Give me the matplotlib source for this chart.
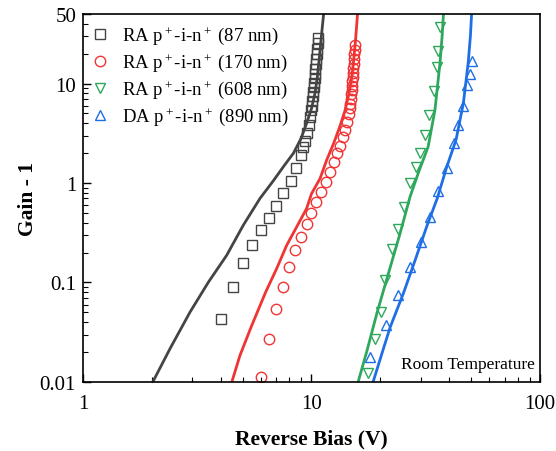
import matplotlib
matplotlib.use('Agg')
import matplotlib.pyplot as plt
from matplotlib.ticker import FixedLocator, NullFormatter

plt.rcParams['font.family'] = ['Liberation Serif', 'DejaVu Serif']
plt.rcParams['mathtext.fontset'] = 'custom'
plt.rcParams['mathtext.rm'] = 'Liberation Serif'
plt.rcParams['mathtext.it'] = 'Liberation Serif:italic'
plt.rcParams['mathtext.bf'] = 'Liberation Serif:bold'

# measured points (reverse bias V, gain - 1)
v87 = [4.02, 4.52, 5.0, 5.51, 6.01, 6.52, 6.99, 7.53, 8.1, 8.55, 9.0, 9.15, 9.37, 9.52,
       9.78, 9.88, 9.97, 10.03, 10.08, 10.13, 10.18, 10.22, 10.27, 10.31, 10.36, 10.4,
       10.45, 10.5, 10.55, 10.6, 10.65, 10.7]
g87 = [0.0432, 0.091, 0.157, 0.24, 0.338, 0.45, 0.594, 0.8, 1.05, 1.42, 1.93, 2.28, 2.67, 3.16,
       3.84, 4.66, 5.4, 6.0, 6.7, 7.5, 8.3, 9.2, 10.2, 11.3, 12.6, 14.0,
       15.6, 17.5, 19.7, 22.3, 25.3, 28.7]

v170 = [6.01, 6.52, 6.99, 7.5, 8.0, 8.5, 9.0, 9.52, 10.0, 10.5, 11.0, 11.6, 12.0, 12.5,
        12.9, 13.3, 13.7, 14.0, 14.35, 14.55, 14.7, 14.8, 14.87, 14.94, 15.0, 15.05,
        15.1, 15.15, 15.2, 15.25, 15.3, 15.35, 15.4, 15.45, 15.5]
g170 = [0.0113, 0.0271, 0.0545, 0.0893, 0.142, 0.21, 0.288, 0.385, 0.502, 0.645, 0.82, 1.03, 1.29, 1.61,
        1.99, 2.38, 2.88, 3.41, 4.15, 4.9, 5.65, 6.3, 7.0, 7.8, 8.6, 9.5,
        10.5, 11.6, 12.8, 14.2, 15.8, 17.6, 19.6, 21.9, 24.5]

v608 = [17.6, 19.0, 20.2, 21.0, 22.4, 24.0, 25.3, 27.0, 28.6, 29.8, 31.4, 32.8, 34.3, 35.3, 35.9, 36.5]
g608 = [0.0122, 0.0271, 0.0505, 0.106, 0.219, 0.348, 0.57, 0.99, 1.44, 1.99, 3.07, 4.8, 8.4, 14.6, 21.1, 36.7]

v890 = [18.0, 21.1, 24.0, 27.0, 30.1, 33.0, 35.9, 39.1, 42.1, 43.9, 45.9, 48.1, 49.4, 50.2]
g890 = [0.0177, 0.037, 0.0753, 0.143, 0.256, 0.457, 0.828, 1.4, 2.51, 3.79, 5.88, 9.57, 12.4, 16.8]

# simulated curves
sv87 = [2.02, 2.4, 2.94, 3.54, 4.25, 5.03, 5.95, 6.8, 7.6, 8.33, 9.0, 9.52, 10.0, 10.36, 10.6, 10.8, 11.05, 11.3]
sg87 = [0.01, 0.0215, 0.0504, 0.101, 0.187, 0.377, 0.7, 1.05, 1.5, 1.99, 2.8, 3.99, 5.6, 8.0, 11.5, 17.3, 30, 50]

sv170 = [4.48, 4.86, 5.45, 6.3, 7.04, 7.79, 8.6, 9.52, 10.0, 10.9, 11.65, 12.5, 13.3, 14.0, 14.6, 15.0, 15.3, 15.6, 15.9]
sg170 = [0.01, 0.0184, 0.036, 0.08, 0.138, 0.237, 0.36, 0.555, 0.78, 1.11, 1.7, 2.5, 3.69, 5.3, 8.0, 11.5, 17.3, 28, 50]

sv608 = [16.0, 17.5, 19.3, 21.7, 24.4, 27.0, 29.3, 32.4, 34.7, 36.5, 37.3, 37.8]
sg608 = [0.01, 0.0207, 0.0485, 0.123, 0.31, 0.728, 1.25, 2.32, 5.43, 16.1, 30, 50]

sv890 = [18.6, 20.3, 22.1, 25.2, 28.4, 31.9, 35.5, 39.1, 42.9, 46.2, 48.5, 49.6, 50.2]
sg890 = [0.01, 0.0191, 0.0356, 0.077, 0.167, 0.363, 0.7, 1.46, 2.71, 6.34, 16.1, 30, 50]

labels = [r'RA p$^+$-i-n$^+$ (87 nm)', r'RA p$^+$-i-n$^+$ (170 nm)',
          r'RA p$^+$-i-n$^+$ (608 nm)', r'DA p$^+$-i-n$^+$ (890 nm)']
colors = ['#444444', '#F03434', '#2DA85C', '#1E6FE6']

fig = plt.figure(figsize=(5.56, 4.52), dpi=100)
ax = fig.add_axes([0.1493, 0.1527, 0.8219, 0.8141])

for sv, sg, c in zip([sv87, sv170, sv608, sv890], [sg87, sg170, sg608, sg890], colors):
    ax.plot(sv, sg, '-', color=c, lw=2.0)

for v, g, m, c, lab in zip([v87, v170, v608, v890], [g87, g170, g608, g890],
                           ['s', 'o', 'v', '^'], colors, labels):
    ax.plot(v, g, m, ls='none', mfc='none', mec=c, mew=1.0, ms=7.5, label=lab)

ax.set_xscale('log')
ax.set_yscale('log')
ax.set_xlim(1, 100)
ax.set_ylim(0.01, 50)

ax.yaxis.set_major_locator(FixedLocator([0.01, 0.1, 1, 10, 50]))
ax.set_yticklabels(['0.01', '0.1', '1', '10', '50'])
ax.yaxis.set_minor_formatter(NullFormatter())
ax.set_xticks([1, 10, 100])
ax.set_xticklabels(['1', '10', '100'])
ax.xaxis.set_minor_formatter(NullFormatter())

ax.tick_params(which='both', direction='in', top=False, right=False, labelsize=15)
ax.tick_params(which='major', length=6, width=1.0)
ax.tick_params(which='minor', length=3.5, width=0.8)
ax.tick_params(axis='x', pad=9)
ax.tick_params(axis='y', pad=5)
for s in ax.spines.values():
    s.set_linewidth(1.2)

ax.set_xlabel('Reverse Bias (V)', fontsize=15.5, fontweight='bold', labelpad=11)
ax.set_ylabel('Gain - 1', fontsize=15.5, fontweight='bold', labelpad=1)

ax.text(0.989, 0.049, 'Room Temperature', transform=ax.transAxes, ha='right', va='center', fontsize=12.5)

ax.legend(loc='upper left', bbox_to_anchor=(0.013, 0.972), frameon=False, fontsize=13.5,
          handlelength=1.2, handletextpad=0.55, labelspacing=0.28, borderpad=0.0,
          borderaxespad=0.0, numpoints=1)

fig.savefig('out.png', dpi=100)
